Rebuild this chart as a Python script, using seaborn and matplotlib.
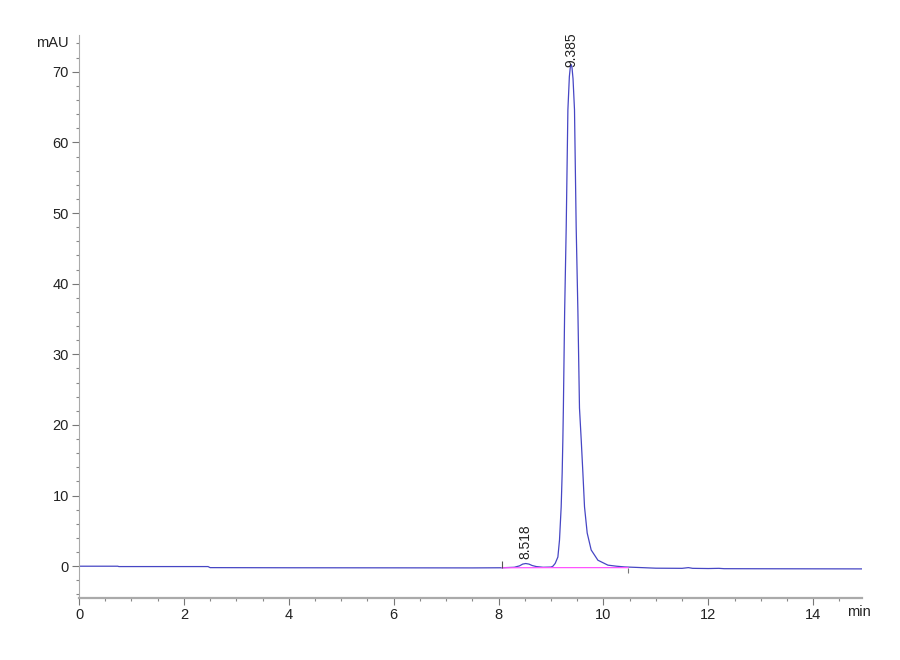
import numpy as np
import pandas as pd
import matplotlib
matplotlib.use('Agg')
import matplotlib.pyplot as plt
import seaborn as sns
from matplotlib.ticker import MultipleLocator

# chromatogram trace, points
time_min = [0.0, 0.74, 0.76, 2.46, 2.5, 4.0, 6.0, 7.5, 8.06, 8.3, 8.4, 8.46, 8.518,
            8.58, 8.64, 8.72, 8.85, 9.0, 9.036, 9.080, 9.131, 9.162, 9.194, 9.213,
            9.226, 9.236, 9.260, 9.290, 9.322, 9.35, 9.37, 9.385, 9.40, 9.42, 9.448,
            9.480, 9.513, 9.543, 9.576, 9.608, 9.639, 9.690, 9.766, 9.894, 10.085,
            10.25, 10.40, 11.0, 11.5, 11.62, 11.7, 12.0, 12.2, 12.3, 13.0, 14.0, 14.93]
signal_mau = [0.0, 0.0, -0.05, -0.05, -0.2, -0.22, -0.23, -0.24, -0.22, -0.15, 0.05,
              0.3, 0.38, 0.3, 0.1, -0.05, -0.15, -0.12, 0.0, 0.4, 1.3, 3.7, 8.4, 13.2,
              17.9, 22.4, 36.0, 48.0, 64.6, 69.3, 70.8, 71.0, 70.6, 69.0, 64.6,
              48.0, 36.0, 22.4, 17.9, 13.2, 8.4, 4.7, 2.3, 0.85, 0.15,
              0.0, -0.1, -0.28, -0.3, -0.2, -0.3, -0.33, -0.3, -0.35, -0.36, -0.37, -0.38]

# integration baseline and events
base_time = [8.06, 9.02, 10.47]
base_level = [-0.22, -0.2, -0.2]
event_start = 8.06
event_end = 10.47

# peak labels
peak_rt = [8.518, 9.385]
peak_height = [0.38, 71.0]

x_ticks = [0, 2, 4, 6, 8, 10, 12, 14]
y_ticks = [0, 10, 20, 30, 40, 50, 60, 70]

sns.set_style('white')
plt.rcParams['font.family'] = ['Liberation Sans Narrow', 'Liberation Sans', 'DejaVu Sans']

fig = plt.figure(figsize=(9, 6.6), dpi=100)
ax = fig.add_axes([79 / 900, 1 - 598 / 660, 783 / 900, 563 / 660])

trace = pd.DataFrame({'time': time_min, 'signal': signal_mau})
sns.lineplot(data=trace, x='time', y='signal', ax=ax, color='#4646c4',
             linewidth=0.9, estimator=None, sort=False)

ax.plot(base_time, base_level, color='#ff55ff', linewidth=0.9)
ax.vlines(event_start, base_level[0], base_level[0] + 0.9, color='#555555', linewidth=0.8)
ax.vlines(event_end, base_level[-1] - 0.8, base_level[-1], color='#777777', linewidth=0.8)

offsets = [3, -2]
for rt, h, off in zip(peak_rt, peak_height, offsets):
    ax.annotate(f'{rt:.3f}', xy=(rt, h), xytext=(0, off), textcoords='offset points',
                rotation=90, ha='center', va='bottom', fontsize=10,
                family=['Liberation Sans', 'DejaVu Sans'], color='#222222')

ax.set_xlim(0, 14.93)
ax.set_ylim(-4.5, 75.2)
ax.set_xticks(x_ticks)
ax.set_yticks(y_ticks)
ax.xaxis.set_minor_locator(MultipleLocator(0.5))
ax.yaxis.set_minor_locator(MultipleLocator(2))
ax.tick_params(axis='both', which='major', direction='out', length=4.7, width=0.8,
               color='#777777', labelsize=10.5, pad=2.6, labelcolor='#222222')
ax.tick_params(axis='both', which='minor', direction='out', length=2.5, width=0.8,
               color='#888888')
ax.tick_params(axis='both', which='both', left=True, bottom=True)

ax.set_xlabel('')
ax.set_ylabel('')
for side in ['top', 'right']:
    ax.spines[side].set_visible(False)
ax.spines['left'].set_color('#aaaaaa')
ax.spines['left'].set_linewidth(0.8)
ax.spines['bottom'].set_color('#aaaaaa')
ax.spines['bottom'].set_linewidth(1.6)

ax.annotate('mAU', xy=(0, 74), xycoords=('axes fraction', 'data'), xytext=(-7.3, 0),
            textcoords='offset points', ha='right', va='center', fontsize=10.5,
            color='#222222')
ax.annotate('min', xy=(1, 0), xycoords='axes fraction', xytext=(-10.5, -10.3),
            textcoords='offset points', ha='left', va='center', fontsize=10.5,
            color='#222222')

fig.savefig('out.png', dpi=100)
